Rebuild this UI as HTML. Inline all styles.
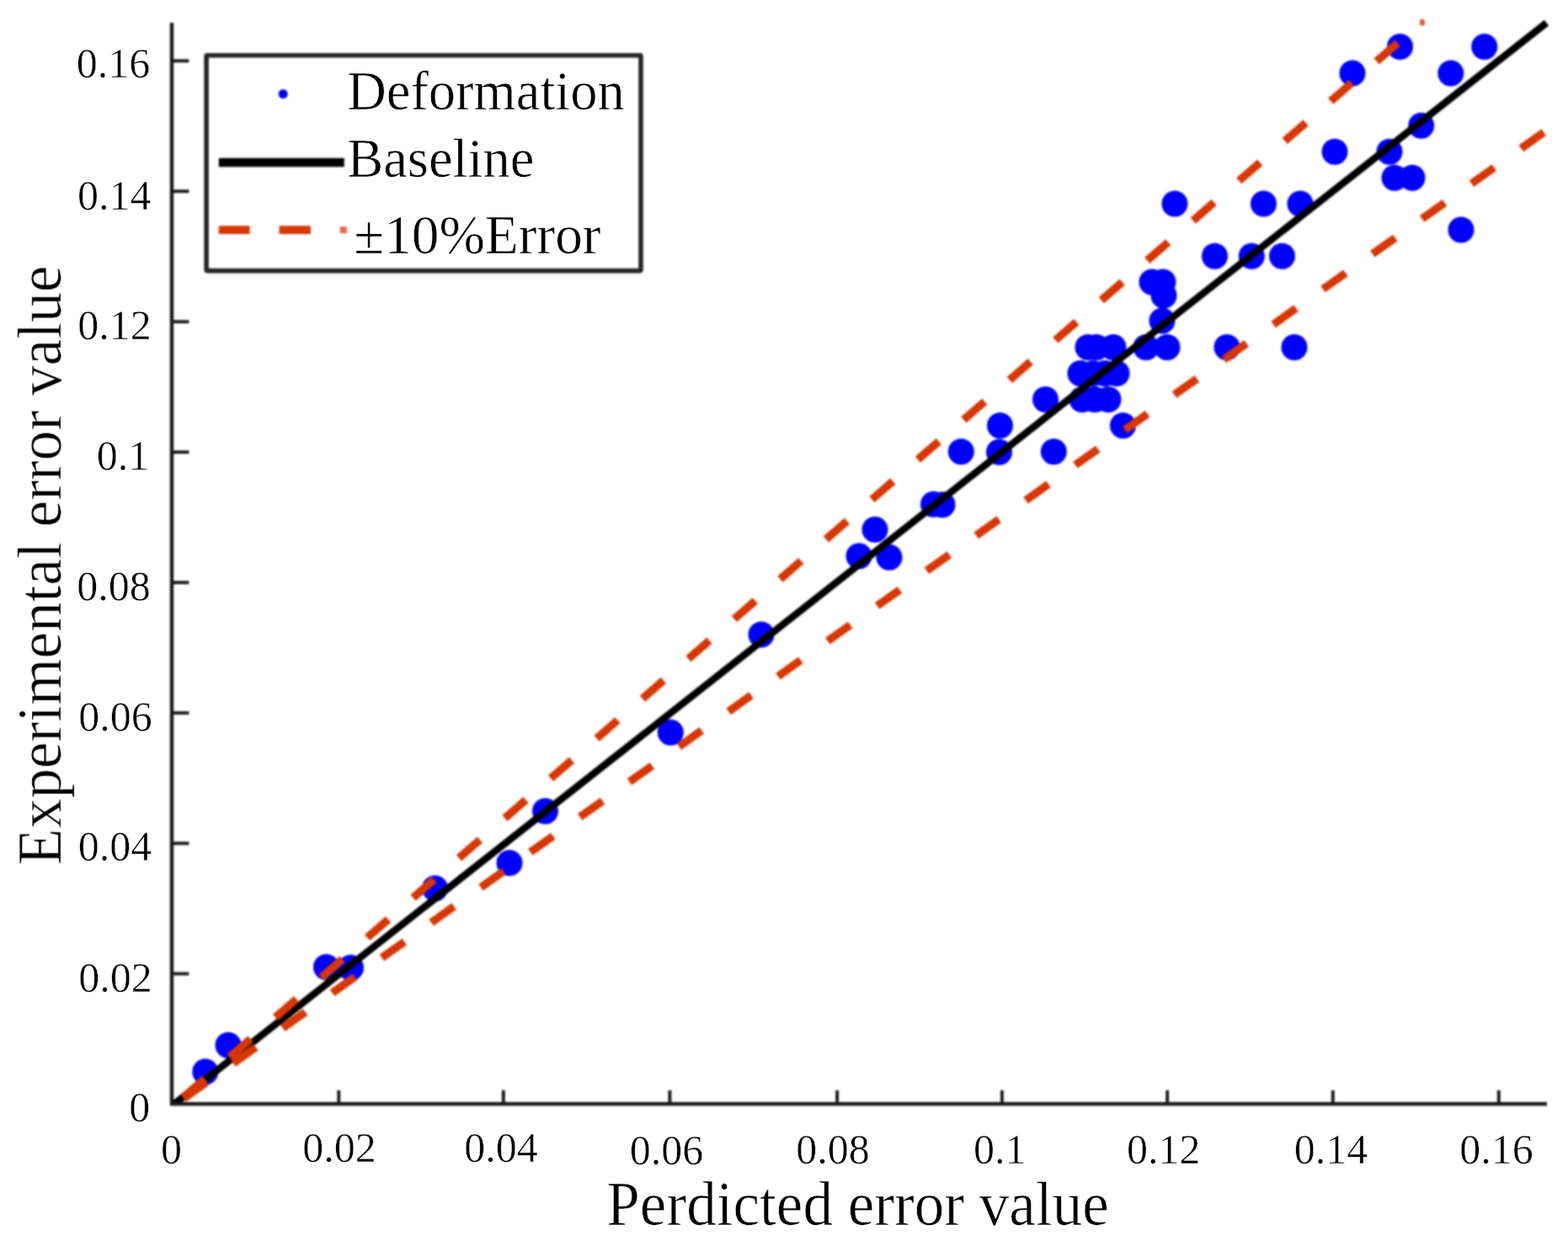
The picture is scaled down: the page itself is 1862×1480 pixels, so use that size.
<!DOCTYPE html>
<html lang="en"><head><meta charset="utf-8"><title>Predicted vs experimental error value</title>
<style>html,body{margin:0;padding:0;background:#fff}body{width:1862px;height:1480px;overflow:hidden}svg{display:block}text{font-family:"Liberation Serif","DejaVu Serif",serif;fill:#000;stroke:#fff;stroke-width:.5px;stroke-linejoin:round}.lg text{stroke-width:.6px}</style>
</head><body>
<svg role="img" aria-label="Scatter plot of experimental error value against predicted error value with baseline and plus-minus ten percent error band" width="1862" height="1480" viewBox="0 0 1862 1480">
<rect width="1862" height="1480" fill="#fff"/>
<defs><filter id="soft" filterUnits="userSpaceOnUse" x="0" y="0" width="1862" height="1480" color-interpolation-filters="sRGB"><feGaussianBlur stdDeviation="1"/></filter><filter id="softer" filterUnits="userSpaceOnUse" x="0" y="0" width="1862" height="1480" color-interpolation-filters="sRGB"><feGaussianBlur stdDeviation="0.6"/></filter></defs>
<g class="sh" filter="url(#soft)">
<g fill="#0000fe">
<circle cx="243.8" cy="1273.0" r="15.5"/>
<circle cx="271.0" cy="1241.5" r="15.5"/>
<circle cx="387.5" cy="1148.7" r="15.5"/>
<circle cx="416.5" cy="1149.5" r="15.5"/>
<circle cx="516.5" cy="1055.3" r="15.5"/>
<circle cx="605.0" cy="1025.0" r="15.5"/>
<circle cx="647.5" cy="963.5" r="15.5"/>
<circle cx="796.3" cy="870.0" r="15.5"/>
<circle cx="904.0" cy="753.7" r="15.5"/>
<circle cx="1020.0" cy="660.5" r="15.5"/>
<circle cx="1056.0" cy="662.0" r="15.5"/>
<circle cx="1039.0" cy="629.0" r="15.5"/>
<circle cx="1108.5" cy="599.0" r="15.5"/>
<circle cx="1119.0" cy="599.5" r="15.5"/>
<circle cx="1141.3" cy="536.5" r="15.5"/>
<circle cx="1186.5" cy="537.0" r="15.5"/>
<circle cx="1251.3" cy="536.5" r="15.5"/>
<circle cx="1187.5" cy="505.5" r="15.5"/>
<circle cx="1333.5" cy="505.5" r="15.5"/>
<circle cx="1241.5" cy="474.5" r="15.5"/>
<circle cx="1285.0" cy="474.5" r="15.5"/>
<circle cx="1300.0" cy="474.5" r="15.5"/>
<circle cx="1316.0" cy="474.5" r="15.5"/>
<circle cx="1283.0" cy="443.5" r="15.5"/>
<circle cx="1298.0" cy="443.5" r="15.5"/>
<circle cx="1312.0" cy="443.5" r="15.5"/>
<circle cx="1326.0" cy="443.5" r="15.5"/>
<circle cx="1292.0" cy="412.5" r="15.5"/>
<circle cx="1302.0" cy="412.5" r="15.5"/>
<circle cx="1322.0" cy="412.5" r="15.5"/>
<circle cx="1361.0" cy="412.5" r="15.5"/>
<circle cx="1386.0" cy="412.5" r="15.5"/>
<circle cx="1457.0" cy="412.5" r="15.5"/>
<circle cx="1537.0" cy="412.5" r="15.5"/>
<circle cx="1380.0" cy="381.0" r="15.5"/>
<circle cx="1382.0" cy="351.0" r="15.5"/>
<circle cx="1368.0" cy="335.0" r="15.5"/>
<circle cx="1381.0" cy="335.0" r="15.5"/>
<circle cx="1442.5" cy="304.3" r="15.5"/>
<circle cx="1486.3" cy="304.3" r="15.5"/>
<circle cx="1522.5" cy="304.3" r="15.5"/>
<circle cx="1735.0" cy="273.0" r="15.5"/>
<circle cx="1395.0" cy="242.0" r="15.5"/>
<circle cx="1500.5" cy="242.0" r="15.5"/>
<circle cx="1544.0" cy="242.0" r="15.5"/>
<circle cx="1656.0" cy="211.3" r="15.5"/>
<circle cx="1677.0" cy="211.3" r="15.5"/>
<circle cx="1585.0" cy="180.3" r="15.5"/>
<circle cx="1650.0" cy="180.3" r="15.5"/>
<circle cx="1687.7" cy="149.3" r="15.5"/>
<circle cx="1606.0" cy="87.0" r="15.5"/>
<circle cx="1722.8" cy="87.0" r="15.5"/>
<circle cx="1662.5" cy="55.5" r="15.5"/>
<circle cx="1762.7" cy="55.5" r="15.5"/>
</g>
<clipPath id="plot"><rect x="204.0" y="0" width="1639.0" height="1311.2"/></clipPath>
<line clip-path="url(#plot)" x1="207.2" y1="1311.2" x2="1836.5" y2="27.1" stroke="#000" stroke-width="8.5"/>
<clipPath id="plot2"><rect x="204.0" y="18.0" width="1639.0" height="1293.2"/></clipPath>
<g clip-path="url(#plot2)">
<line x1="207.0" y1="1312.7" x2="1677.1" y2="36.0" stroke="#d83602" stroke-width="9.5" stroke-dasharray="33 39.16" stroke-dashoffset="57.36"/>
<ellipse cx="1689" cy="26.6" rx="3.2" ry="4.2" fill="#d83602" opacity=".8"/>
<line x1="207.0" y1="1312.7" x2="1838.0" y2="153.8" stroke="#d83602" stroke-width="9.5" stroke-dasharray="33 39.16" stroke-dashoffset="58.55"/>
</g>
<g stroke="#1a1a1a" fill="none">
<path d="M204.0 27.0V1311.2H1837.0" stroke-width="4.4" stroke-linejoin="miter"/>
<line x1="402.3" y1="1311.2" x2="402.3" y2="1295.0" stroke-width="3.9"/>
<line x1="204.0" y1="1156.6" x2="224.4" y2="1156.6" stroke-width="3.9"/>
<line x1="597.8" y1="1311.2" x2="597.8" y2="1295.0" stroke-width="3.9"/>
<line x1="204.0" y1="1001.7" x2="224.4" y2="1001.7" stroke-width="3.9"/>
<line x1="795.4" y1="1311.2" x2="795.4" y2="1295.0" stroke-width="3.9"/>
<line x1="204.0" y1="846.8" x2="224.4" y2="846.8" stroke-width="3.9"/>
<line x1="994.1" y1="1311.2" x2="994.1" y2="1295.0" stroke-width="3.9"/>
<line x1="204.0" y1="691.9" x2="224.4" y2="691.9" stroke-width="3.9"/>
<line x1="1189.9" y1="1311.2" x2="1189.9" y2="1295.0" stroke-width="3.9"/>
<line x1="204.0" y1="537.0" x2="224.4" y2="537.0" stroke-width="3.9"/>
<line x1="1386.2" y1="1311.2" x2="1386.2" y2="1295.0" stroke-width="3.9"/>
<line x1="204.0" y1="382.1" x2="224.4" y2="382.1" stroke-width="3.9"/>
<line x1="1582.8" y1="1311.2" x2="1582.8" y2="1295.0" stroke-width="3.9"/>
<line x1="204.0" y1="227.2" x2="224.4" y2="227.2" stroke-width="3.9"/>
<line x1="1779.8" y1="1311.2" x2="1779.8" y2="1295.0" stroke-width="3.9"/>
<line x1="204.0" y1="72.3" x2="224.4" y2="72.3" stroke-width="3.9"/>
</g>
<rect x="245.1" y="65.8" width="515.9" height="255.8" rx="1" fill="#fff" stroke="#262626" stroke-width="5.6"/>
<circle cx="336.2" cy="111.6" r="5.5" fill="#0000fe"/>
<line x1="259.8" y1="193" x2="408.8" y2="193" stroke="#000" stroke-width="10.3"/>
<g stroke="#d83602" stroke-width="9.8"><line x1="259.8" y1="273.1" x2="296.6" y2="273.1"/><line x1="331.6" y1="273.1" x2="369" y2="273.1"/><line x1="403.8" y1="273.1" x2="411.8" y2="273.1" stroke-width="8" opacity=".75"/></g>
</g>
<g class="tx" filter="url(#softer)">
<g font-size="50" text-anchor="middle">
<text x="203.6" y="1381.6">0</text>
<text x="403.1" y="1379.6">0.02</text>
<text x="594.9" y="1379.6">0.04</text>
<text x="791.5" y="1383.1">0.06</text>
<text x="989.0" y="1382.2">0.08</text>
<text x="1187.2" y="1382.2">0.1</text>
<text x="1381.7" y="1382.0">0.12</text>
<text x="1580.6" y="1381.7">0.14</text>
<text x="1777.0" y="1382.0">0.16</text>
</g>
<g font-size="50" text-anchor="end">
<text x="178.2" y="1332.3">0</text>
<text x="180.7" y="1177.5">0.02</text>
<text x="180.2" y="1021.9">0.04</text>
<text x="180.7" y="868.4">0.06</text>
<text x="178.8" y="712.8">0.08</text>
<text x="177.2" y="558.3">0.1</text>
<text x="179.7" y="403.3">0.12</text>
<text x="179.5" y="248.7">0.14</text>
<text x="178.2" y="91.5">0.16</text>
</g>
<text x="720.3" y="1455.2" font-size="74" textLength="596.5" lengthAdjust="spacingAndGlyphs" style="stroke-width:.7px">Perdicted error value</text>
<text transform="translate(72.2 1027.6) rotate(-90)" font-size="74" textLength="712" lengthAdjust="spacingAndGlyphs" style="stroke-width:.7px">Experimental error value</text>
<g class="lg" font-size="64.5">
<text x="412.2" y="130">Deformation</text>
<text x="412.2" y="209.8">Baseline</text>
<text x="420.3" y="301" font-size="65.3">±10%Error</text>
</g>
</g>
</svg></body></html>
